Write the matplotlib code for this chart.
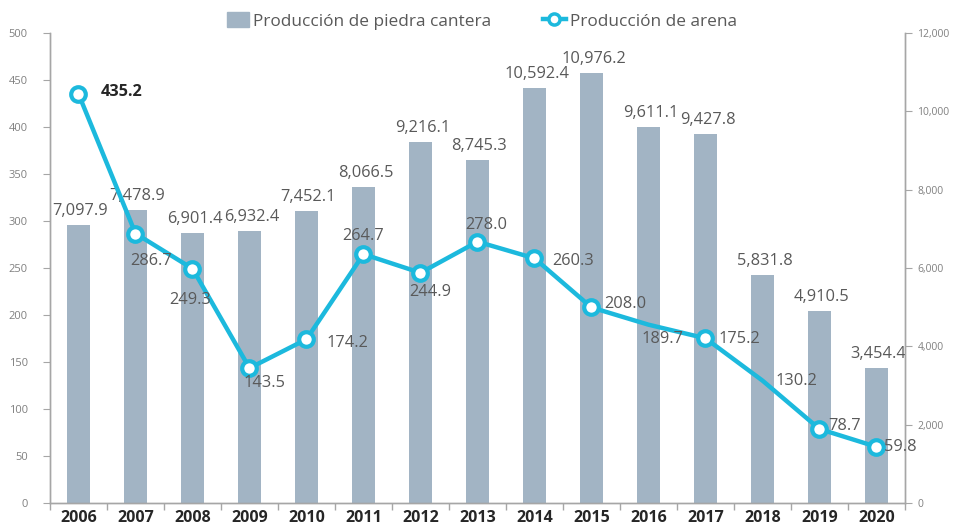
import matplotlib
matplotlib.use("Agg")
import matplotlib.pyplot as plt
from matplotlib.patches import Patch
from matplotlib.lines import Line2D

years = ["2006", "2007", "2008", "2009", "2010", "2011", "2012", "2013",
         "2014", "2015", "2016", "2017", "2018", "2019", "2020"]
piedra = [7097.9, 7478.9, 6901.4, 6932.4, 7452.1, 8066.5, 9216.1, 8745.3,
          10592.4, 10976.2, 9611.1, 9427.8, 5831.8, 4910.5, 3454.4]
arena = [435.2, 286.7, 249.3, 143.5, 174.2, 264.7, 244.9, 278.0,
         260.3, 208.0, 189.7, 175.2, 130.2, 78.7, 59.8]
marker_idx = [0, 1, 2, 3, 4, 5, 6, 7, 8, 9, 11, 13, 14]
left_ticks = [0, 50, 100, 150, 200, 250, 300, 350, 400, 450, 500]
right_ticks = [0, 2000, 4000, 6000, 8000, 10000, 12000]

plt.rcParams['font.family'] = ['Open Sans', 'DejaVu Sans']

BAR = '#A2B4C4'
LINE = '#1CB9DD'
TXT = '#595959'
SPINE = '#A6A6A6'

fig = plt.figure(figsize=(9.54, 5.25), dpi=100)
ax = fig.add_axes([50/954, 1-503/525, 855/954, 470/525])
ax2 = ax.twinx()
ax.set_zorder(ax2.get_zorder() + 1)
ax.patch.set_visible(False)

x = list(range(len(years)))
ax2.bar(x, piedra, width=0.39, color=BAR, zorder=2)
for xi, v in zip(x, piedra):
    ax2.annotate(f"{v:,.1f}", (xi, v), xytext=(2, 10), textcoords='offset pixels',
                 ha='center', va='baseline', fontsize=11.8, color=TXT)

ax.plot(x, arena, color=LINE, lw=3.2, zorder=3, solid_capstyle='round')
ax.plot([x[i] for i in marker_idx], [arena[i] for i in marker_idx], ls='none',
        marker='o', ms=10.5, mfc='white', mec=LINE, mew=3, zorder=4)

# label offsets in pixels (dx, dy, ha)
offs = [(22, 2, 'left'), (16, -27, 'center'), (-2, -31, 'center'), (15, -15, 'center'),
        (20, -4, 'left'), (0, 18, 'center'), (10, -19, 'center'), (9, 17, 'center'),
        (18, -3, 'left'), (13, 3, 'left'), (14, -14, 'center'), (13, -1, 'left'),
        (13, 0, 'left'), (9, 3, 'left'), (8, 0, 'left')]
for i, (xi, v) in enumerate(zip(x, arena)):
    dx, dy, ha = offs[i]
    ax.annotate(f"{v:.1f}", (xi, v), xytext=(dx, dy), textcoords='offset pixels',
                ha=ha, va='center', fontsize=11.8,
                color='#262626' if i == 0 else TXT,
                fontweight='bold' if i == 0 else 'normal', zorder=5)

ax.set_xlim(-0.5, len(years) - 0.5)
ax.set_ylim(0, 500)
ax2.set_ylim(0, 12000)
ax.set_yticks(left_ticks)
ax.set_yticklabels([str(t) for t in left_ticks])
ax2.set_yticks(right_ticks)
ax2.set_yticklabels([f"{t:,}" for t in right_ticks])

ax.set_xticks(x)
ax.set_xticklabels(years, fontsize=11.5, fontweight='bold', color='#262626')
ax.set_xticks([i - 0.5 for i in range(len(years) + 1)], minor=True)
ax.tick_params(axis='x', which='major', length=0, pad=5)
ax.tick_params(axis='x', which='minor', length=5, color=SPINE, width=1)
ax.tick_params(axis='y', length=5, color=SPINE, labelsize=8, labelcolor='#808080', pad=11)
ax2.tick_params(axis='y', length=5, color=SPINE, labelsize=7.5, labelcolor='#808080', pad=4)

for a in (ax, ax2):
    a.spines['top'].set_visible(False)
    for s in ('left', 'right', 'bottom'):
        a.spines[s].set_color(SPINE)
        a.spines[s].set_linewidth(1)

handles = [Patch(color=BAR),
           Line2D([0], [0], color=LINE, lw=3.2, marker='o', ms=8, mfc='white', mec=LINE, mew=2.5)]
fig.legend(handles, ["Producción de piedra cantera", "Producción de arena"],
           loc='center', bbox_to_anchor=(0.505, 0.96), ncol=2, frameon=False,
           fontsize=12.4, labelcolor=TXT, handlelength=1.3, handletextpad=0.25,
           columnspacing=3.0, handleheight=0.9)

fig.savefig("out.png", dpi=100)
